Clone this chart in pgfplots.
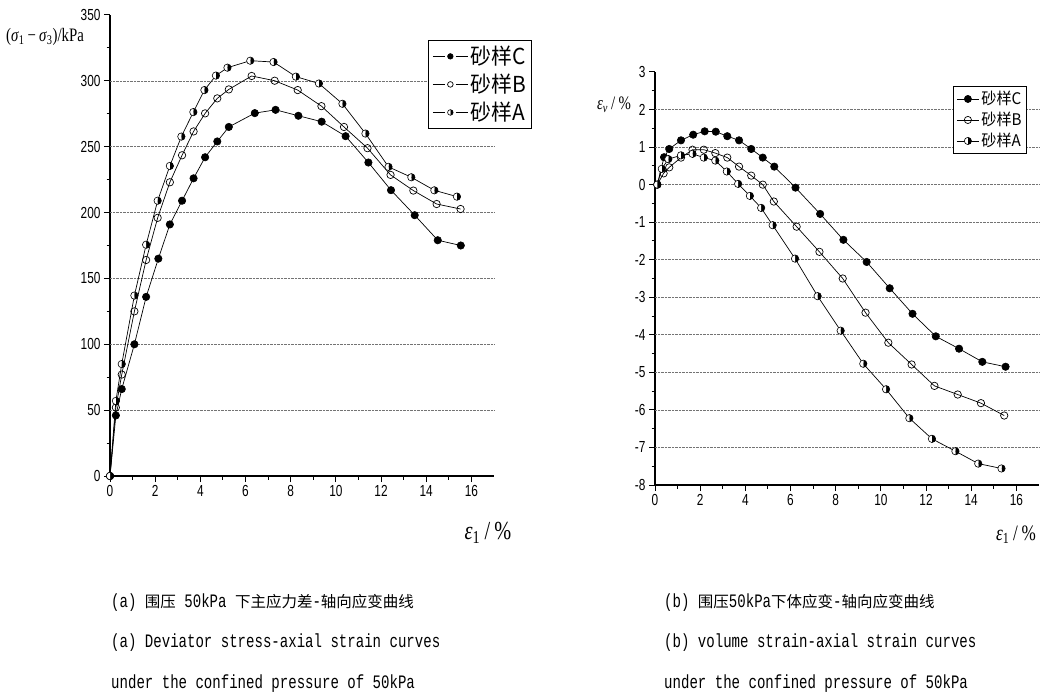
\documentclass[border=0pt]{standalone}
\usepackage{fontspec}
\setmainfont{Liberation Serif}
\newfontfamily\cjk[FakeStretch=0.95]{Noto Sans CJK SC}
\newfontfamily\cjkcap{Noto Sans CJK SC}
\newfontfamily\tickfont[FakeStretch=0.74]{Liberation Sans}
\newfontfamily\capmono[FakeStretch=0.74]{Liberation Mono}
\newfontfamily\labserif[FakeStretch=0.78]{Liberation Serif}
\usepackage{pgfplots}
\pgfplotsset{compat=1.18}
\usetikzlibrary{plotmarks}

\pgfplotstableread{
x y
0 0
0.26 46
0.52 66
1.08 100
1.60 136
2.14 165
2.65 191
3.19 209
3.70 226
4.21 242
4.75 254
5.26 265
6.41 275.5
7.33 278
8.34 273.5
9.37 269
10.43 258
11.44 238
12.44 217
13.49 198
14.51 179
15.53 175
}\LC
\pgfplotstableread{
x y
0 0
0.26 52
0.52 77
1.08 125
1.60 164
2.11 196
2.65 223
3.19 243.5
3.70 261.6
4.21 275.3
4.75 286.7
5.26 293.5
6.27 303.7
7.29 300.1
8.31 293
9.36 280.8
10.36 265
11.40 248.9
12.42 228.6
13.43 216.7
14.46 206.5
15.52 202.7
}\LB
\pgfplotstableread{
x y
0 0
0.26 57
0.52 85
1.08 137
1.60 175.6
2.11 209
2.65 235.4
3.16 257.7
3.69 276.3
4.18 293
4.69 304
5.20 310
6.21 315.3
7.24 314.3
8.23 303.2
9.25 298
10.29 282.6
11.31 260
12.33 234.7
13.34 226.8
14.36 216.9
15.36 212.1
}\LA
\pgfplotstableread{
x y
0.1 0
0.40 0.73
0.63 0.95
1.15 1.18
1.69 1.33
2.20 1.42
2.69 1.41
3.20 1.29
3.72 1.18
4.26 0.95
4.77 0.72
5.28 0.48
6.22 -0.08
7.31 -0.78
8.34 -1.47
9.37 -2.06
10.39 -2.76
11.40 -3.44
12.43 -4.04
13.46 -4.37
14.49 -4.72
15.52 -4.85
}\RC
\pgfplotstableread{
x y
0.1 0
0.38 0.30
0.63 0.46
1.15 0.72
1.66 0.93
2.16 0.93
2.67 0.84
3.20 0.72
3.72 0.48
4.26 0.24
4.77 0.0
5.26 -0.45
6.27 -1.12
7.28 -1.79
8.31 -2.5
9.32 -3.41
10.33 -4.21
11.36 -4.79
12.37 -5.36
13.40 -5.59
14.43 -5.82
15.46 -6.15
}\RB
\pgfplotstableread{
x y
0.1 0
0.30 0.42
0.59 0.68
1.15 0.78
1.66 0.82
2.16 0.72
2.67 0.64
3.18 0.35
3.68 0.02
4.20 -0.30
4.70 -0.62
5.21 -1.08
6.20 -1.97
7.20 -2.97
8.22 -3.89
9.22 -4.77
10.23 -5.45
11.26 -6.22
12.26 -6.77
13.30 -7.10
14.31 -7.43
15.34 -7.56
}\RA

\pgfplotsset{
  common/.style={
    scale only axis, clip=false,
    axis x line*=bottom, axis y line*=left,
    axis line style={line width=1.1pt, -},
    every tick/.style={black, line width=1pt},
    major tick length=6pt, minor tick length=3.5pt,
    tick align=outside,
    minor x tick num=1, minor y tick num=1,
    xmin=0, xmax=17, xtick={0,2,...,16},
    tick label style={font=\tickfont\fontsize{16}{17}\selectfont},
    /pgf/number format/assume math mode=true,
    extra y tick labels={},
    extra y tick style={ymajorgrids=true, major tick length=0pt,
      major grid style={densely dotted, black!55, line width=0.7pt}},
  },
  sC/.style={black, line width=0.7pt, mark=*, mark size=3.7pt, mark options={fill=black, line width=0.6pt}},
  sB/.style={black, line width=0.7pt, mark=o, mark size=3.7pt, mark options={fill=white, line width=0.7pt}},
  sA/.style={black, line width=0.7pt, mark=halfcircle*, mark size=3.7pt, mark options={fill=black, rotate=-90, line width=0.6pt}},
}

\begin{document}
\begin{tikzpicture}[x=1pt,y=1pt]
\path[use as bounding box] (0,0) rectangle (1046,694);

% ---------- left panel ----------
\begin{axis}[common,
  at={(110pt,218pt)}, anchor=south west,
  width=384pt, height=461pt,
  ymin=0, ymax=350, ytick={0,50,...,350},
  extra y ticks={50,100,...,300},
  legend style={at={(axis description cs:0.828,0.946)}, anchor=north west,
    draw=black, line width=0.9pt, fill=white,
    font=\cjk\fontsize{22}{24}\selectfont,
    inner xsep=4pt, inner ysep=4pt, row sep=4pt,
    /tikz/every even column/.append style={column sep=3pt}},
  legend cell align=left,
  legend image code/.code={
    \draw[#1, mark=none, line width=0.9pt] (0pt,0pt) -- (12pt,0pt);
    \draw[#1, mark=none, line width=0.9pt] (23pt,0pt) -- (35pt,0pt);
    \draw[#1, mark size=2.8pt, line width=0.6pt] plot coordinates {(17.5pt,0pt)};},
]
\addplot[sC] table {\LC};
\addlegendentry{砂样C}
\addplot[sB] table {\LB};
\addlegendentry{砂样B}
\addplot[sA] table {\LA};
\addlegendentry{砂样A}
\end{axis}

% ---------- right panel ----------
\begin{axis}[common,
  at={(655pt,209pt)}, anchor=south west,
  width=384pt, height=413pt,
  ymin=-8, ymax=3, ytick={-8,-7,...,3},
  extra y ticks={-7,-6,...,2},
  legend style={at={(axis description cs:0.776,0.966)}, anchor=north west,
    draw=black, line width=0.9pt, fill=white,
    font=\cjk\fontsize{16}{17}\selectfont,
    inner xsep=3pt, inner ysep=3pt, row sep=2pt,
    /tikz/every even column/.append style={column sep=2pt}},
  legend cell align=left,
  legend image code/.code={
    \draw[#1, mark=none, line width=0.9pt] (0pt,0pt) -- (22pt,0pt);
    \draw[#1, mark size=3.6pt, line width=0.6pt] plot coordinates {(11pt,0pt)};},
]
\addplot[sC] table {\RC};
\addlegendentry{砂样C}
\addplot[sB] table {\RB};
\addlegendentry{砂样B}
\addplot[sA] table {\RA};
\addlegendentry{砂样A}
\end{axis}

% ---------- axis titles ----------
\node[font=\labserif\fontsize{19}{20}\selectfont] at (45,657)
  {(\textit{σ}\textsubscript{1}\,−\,\textit{σ}\textsubscript{3})/kPa};
\node[font=\labserif\fontsize{19}{20}\selectfont] at (614,589)
  {\textit{ε}\textsubscript{\textit{v}}\,/\,\%};
\node[font=\labserif\fontsize{26}{28}\selectfont] at (488,161)
  {\textit{ε}\textsubscript{1}\,/\,\%};
\node[font=\labserif\fontsize{22}{24}\selectfont] at (1016,159)
  {\textit{ε}\textsubscript{1}\,/\,\%};

% ---------- captions ----------
\node[anchor=west, inner sep=0pt] at (111,91)
  {\capmono\fontsize{19}{20}\selectfont (a) {\cjkcap\fontsize{15.5}{16}\selectfont 围压} 50kPa {\cjkcap\fontsize{15.5}{16}\selectfont 下主应力差}-{\cjkcap\fontsize{15.5}{16}\selectfont 轴向应变曲线}};
\node[anchor=west, inner sep=0pt] at (111,51)
  {\capmono\fontsize{19}{20}\selectfont (a) Deviator stress-axial strain curves};
\node[anchor=west, inner sep=0pt] at (111,10)
  {\capmono\fontsize{19}{20}\selectfont under the confined pressure of 50kPa};
\node[anchor=west, inner sep=0pt] at (664,91)
  {\capmono\fontsize{19}{20}\selectfont (b) {\cjkcap\fontsize{15.5}{16}\selectfont 围压}50kPa{\cjkcap\fontsize{15.5}{16}\selectfont 下体应变}-{\cjkcap\fontsize{15.5}{16}\selectfont 轴向应变曲线}};
\node[anchor=west, inner sep=0pt] at (664,51)
  {\capmono\fontsize{19}{20}\selectfont (b) volume strain-axial strain curves};
\node[anchor=west, inner sep=0pt] at (664,10)
  {\capmono\fontsize{19}{20}\selectfont under the confined pressure of 50kPa};
\end{tikzpicture}
\end{document}
